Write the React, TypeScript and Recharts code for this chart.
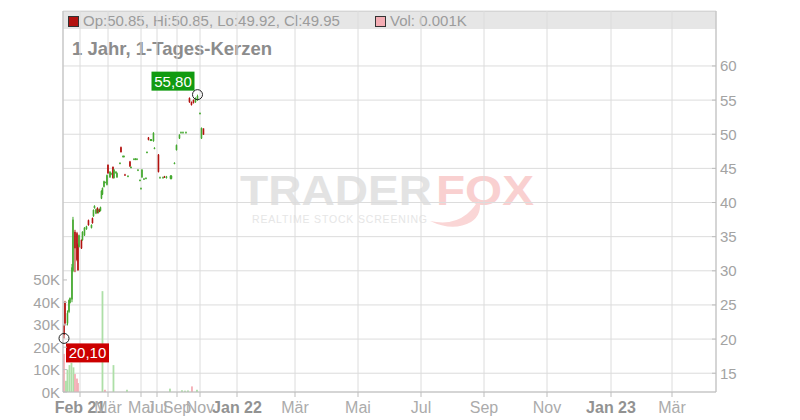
import React from 'react';
import { ComposedChart, Bar, XAxis, YAxis, CartesianGrid, ReferenceDot } from 'recharts';

// ---------- axis definitions ----------
const X_DOMAIN: [number, number] = [0, 653];
const tickSlots = [17, 45, 78, 94, 114, 137, 174, 232, 295, 358, 421, 484, 548, 609];
const tickLabels = ['Feb 21', 'Mär', 'Mai', 'Jul', 'Sep', 'Nov', 'Jan 22', 'Mär', 'Mai', 'Jul', 'Sep', 'Nov', 'Jan 23', 'Mär'];
const boldTickLabels = ['Feb 21', 'Jan 22', 'Jan 23'];
const PRICE_DOMAIN: [number, number] = [12.25, 68.05];
const priceTicks = [15, 20, 25, 30, 35, 40, 45, 50, 55, 60];
const VOLUME_DOMAIN: [number, number] = [0, 170000];
const volumeTicks = [0, 10000, 20000, 30000, 40000, 50000];

// ---------- data: [slot, open, high, low, close] ----------
const candles: [number, number, number, number, number][] = [
  [1, 22.0, 22.0, 20.1, 20.6],
  [2, 25.3, 25.6, 22.0, 22.3],
  [4.5, 22.3, 24.2, 22.0, 23.8],
  [6, 24.0, 25.8, 23.8, 25.7],
  [7, 25.3, 26.1, 25.2, 26.0],
  [9, 25.8, 31.0, 25.4, 30.5],
  [10, 30.0, 37.9, 29.8, 37.5],
  [12, 35.7, 36.0, 29.8, 33.3],
  [14, 35.5, 35.7, 31.4, 31.6],
  [15, 33.8, 34.0, 30.0, 30.1],
  [16, 33.5, 35.3, 33.4, 35.2],
  [18.5, 34.5, 34.6, 33.2, 33.3],
  [19.5, 34.5, 35.8, 34.4, 35.7],
  [21.5, 35.2, 36.4, 35.1, 36.3],
  [23.5, 36.1, 36.6, 36.0, 36.5],
  [25.5, 37.4, 37.5, 36.6, 36.7],
  [28.5, 36.3, 36.8, 36.2, 36.7],
  [29.5, 37.7, 37.8, 36.9, 37.0],
  [30.5, 38.0, 39.0, 37.9, 38.9],
  [31.5, 39.2, 39.6, 39.1, 39.5],
  [33, 38.4, 39.1, 38.3, 39.0],
  [34.5, 39.2, 39.3, 38.4, 38.5],
  [35.5, 38.5, 39.0, 38.4, 38.9],
  [36.5, 39.0, 39.1, 38.6, 38.7],
  [37.5, 38.8, 39.4, 38.7, 39.3],
  [38.5, 40.6, 41.8, 40.5, 41.7],
  [39.5, 41.2, 42.2, 41.1, 42.1],
  [41, 42.3, 43.2, 42.2, 43.1],
  [42, 42.9, 43.1, 42.8, 43.0],
  [44, 42.6, 44.1, 42.5, 44.0],
  [45, 45.5, 45.6, 44.2, 44.3],
  [47, 43.7, 44.6, 43.6, 44.5],
  [48, 44.1, 44.4, 44.0, 44.3],
  [50, 45.2, 45.3, 43.5, 43.6],
  [51, 43.6, 44.9, 43.5, 44.8],
  [53, 44.3, 44.6, 44.2, 44.5],
  [54, 43.7, 44.4, 43.6, 44.3],
  [57, 45.7, 45.9, 45.6, 45.8],
  [58, 48.1, 48.2, 47.3, 47.4],
  [60, 46.7, 46.9, 46.6, 46.8],
  [61, 46.7, 46.9, 46.6, 46.8],
  [62, 44.1, 44.2, 43.9, 44.0],
  [65, 43.8, 44.0, 43.7, 43.9],
  [67, 46.0, 46.1, 45.2, 45.3],
  [68, 45.1, 45.3, 45.0, 45.2],
  [71, 46.3, 46.5, 46.2, 46.4],
  [72.5, 46.3, 46.5, 46.2, 46.4],
  [74, 46.3, 46.5, 46.2, 46.4],
  [75, 44.7, 44.9, 44.6, 44.8],
  [77, 43.2, 43.4, 43.1, 43.3],
  [78, 42.0, 42.2, 41.9, 42.1],
  [79, 43.7, 44.9, 43.6, 44.8],
  [81, 43.4, 43.6, 43.3, 43.5],
  [83, 43.5, 43.7, 43.4, 43.6],
  [84, 47.3, 47.5, 47.2, 47.4],
  [85.5, 49.5, 49.6, 49.1, 49.2],
  [87.5, 49.1, 49.3, 49.0, 49.2],
  [88.5, 49.1, 49.3, 49.0, 49.2],
  [90.5, 49.0, 50.3, 48.9, 50.2],
  [91.5, 47.9, 48.1, 47.8, 48.0],
  [95.5, 47.0, 47.1, 44.4, 44.5],
  [97, 43.6, 43.8, 43.5, 43.7],
  [100, 43.6, 43.8, 43.5, 43.7],
  [101.5, 43.8, 43.9, 43.6, 43.7],
  [103.5, 43.6, 43.9, 43.5, 43.8],
  [107.5, 43.5, 44.0, 43.4, 43.9],
  [108.5, 43.5, 44.0, 43.4, 43.9],
  [111.5, 45.7, 45.9, 45.6, 45.8],
  [113.5, 47.7, 48.5, 47.6, 48.4],
  [116.5, 49.4, 50.0, 49.3, 49.9],
  [118, 50.2, 50.4, 50.1, 50.3],
  [120, 50.2, 50.4, 50.1, 50.3],
  [123, 50.2, 50.4, 50.1, 50.3],
  [126.5, 55.3, 55.4, 54.6, 54.7],
  [128.5, 54.7, 54.8, 54.2, 54.3],
  [130.5, 55.0, 55.1, 54.5, 54.6],
  [132.5, 54.7, 55.4, 54.6, 55.3],
  [134.5, 55.0, 55.8, 54.9, 55.6],
  [137, 53.0, 53.2, 52.9, 53.1],
  [138.5, 49.4, 51.0, 49.3, 50.9],
  [140.5, 50.85, 50.85, 49.92, 49.95],
];

// [slot, volume, up-day]
const volumes: [number, number, boolean][] = [
  [1, 17000, false],
  [3, 5000, true],
  [4.5, 10000, true],
  [6.5, 12000, true],
  [8.5, 13000, true],
  [10.5, 11000, true],
  [12, 8000, false],
  [14, 6000, false],
  [15, 4000, false],
  [39.5, 45000, true],
  [42, 1000, false],
  [50.5, 12000, true],
  [64, 1000, true],
  [107, 1500, true],
  [119, 800, true],
  [122, 600, true],
  [125, 700, true],
  [129, 2500, false],
  [134, 1000, true],
];

const highPoint = { slot: 134.5, price: 55.8, label: '55,80' };
const lowPoint = { slot: 1, price: 20.1, label: '20,10' };
const lastVolumeText = 'Vol: 0.001K';
const titleText = '1 Jahr, 1-Tages-Kerzen';

// ---------- styles ----------
const FONT = '"Liberation Sans", Arial, sans-serif';
const GREEN = '#45a930';
const RED = '#b3120f';
const VOL_GREEN = '#addfa7';
const VOL_RED = '#f4adb4';
const GRID = '#dcdcdc';
const AXIS = '#bdbdbd';

// ---------- merged table ----------
type Row = { slot: number; open?: number; high?: number; low?: number; close?: number; vol?: number; up?: boolean };
const rowMap = new Map<number, Row>();
candles.forEach(([slot, open, high, low, close]) => {
  rowMap.set(slot, { ...(rowMap.get(slot) || { slot }), open, high, low, close });
});
volumes.forEach(([slot, vol, up]) => {
  rowMap.set(slot, { ...(rowMap.get(slot) || { slot }), vol, up });
});
const tableData: Row[] = Array.from(rowMap.values()).sort((a, b) => a.slot - b.slot);

const last = candles[candles.length - 1];
const ohlcText = `Op:${last[1].toFixed(2)}, Hi:${last[2].toFixed(2)}, Lo:${last[3].toFixed(2)}, Cl:${last[4].toFixed(2)}`;

// ---------- shapes ----------
const CandleShape = (props: any) => {
  const { x, y, width, height, payload } = props;
  if (!payload || payload.high == null || x == null || y == null) return null;
  const { open, high, low, close } = payload;
  const top = Math.min(y, y + height);
  const h = Math.abs(height);
  const k = high - low > 0 ? h / (high - low) : 0;
  const cx = x + width / 2;
  const yo = top + (high - open) * k;
  const yc = top + (high - close) * k;
  const color = close >= open ? GREEN : RED;
  const bodyTop = Math.min(yo, yc);
  const bodyH = Math.max(1, Math.abs(yo - yc));
  return (
    <g>
      <line x1={cx} x2={cx} y1={top} y2={top + Math.max(h, 1)} stroke={color} strokeWidth={1} />
      <rect x={cx - 0.8} y={bodyTop} width={1.6} height={bodyH} fill={color} />
    </g>
  );
};

const VolumeShape = (props: any) => {
  const { x, y, width, height, payload } = props;
  if (!payload || payload.vol == null || x == null || y == null) return null;
  const cx = x + width / 2;
  const top = Math.min(y, y + height);
  const h = Math.abs(height);
  return <rect x={cx - 0.9} y={top} width={1.8} height={h} fill={payload.up ? VOL_GREEN : VOL_RED} />;
};

const makeMarker = (label: string, fill: string, above: boolean) => (props: any) => {
  const { cx, cy } = props;
  if (cx == null || cy == null) return null;
  const bw = 43;
  const bh = 19;
  const bx = above ? cx - 3 - bw : cx + 2;
  const by = above ? cy - 4 - bh : cy + 5;
  return (
    <g>
      <rect x={bx} y={by} width={bw} height={bh} fill={fill} />
      <text x={bx + bw / 2} y={by + bh / 2 + 5.5} textAnchor="middle" fill="#fff" fontSize={15} fontFamily={FONT}>
        {label}
      </text>
      <circle cx={cx} cy={cy} r={5} fill="none" stroke="#222" strokeWidth={1} />
    </g>
  );
};

// ---------- ticks ----------
const XTick = (props: any) => {
  const { x, y, payload } = props;
  const idx = tickSlots.indexOf(payload.value);
  const label = idx >= 0 ? tickLabels[idx] : '';
  const bold = boldTickLabels.includes(label);
  return (
    <text x={x} y={y + 16} textAnchor="middle" fontSize={16} fontFamily={FONT} fontWeight={bold ? 'bold' : 'normal'} fill={bold ? '#929292' : '#ababab'}>
      {label}
    </text>
  );
};

const PriceTick = (props: any) => {
  const { x, y, payload } = props;
  return (
    <g>
      <line x1={x - 4} x2={x} y1={y} y2={y} stroke={AXIS} />
      <text x={x + 4} y={y + 5.5} fontSize={15} fontFamily={FONT} fill="#a3a3a3">
        {payload.value}
      </text>
    </g>
  );
};

const VolumeTick = (props: any) => {
  const { x, y, payload } = props;
  return (
    <g>
      <line x1={x} x2={x + 4} y1={y} y2={y} stroke={AXIS} />
      <text x={x - 3} y={y + 5.5} textAnchor="end" fontSize={15} fontFamily={FONT} fill="#a3a3a3">
        {`${payload.value / 1000}K`}
      </text>
    </g>
  );
};

export default function App() {
  return (
    <div style={{ position: 'absolute', left: 0, top: 0, width: 800, height: 420, background: '#fff', fontFamily: FONT }}>
      <svg width={800} height={420} style={{ position: 'absolute', left: 0, top: 0 }}>
        <rect x={63} y={11} width={653} height={18} fill="#e6e6e6" />
        <line x1={63} x2={716} y1={11.5} y2={11.5} stroke="#cfcfcf" />
        <rect x={68.5} y={16.5} width={10} height={10} fill={RED} stroke="#333" />
        <text x={83} y={26} fontSize={15} fill="#9c9c9c" fontFamily={FONT}>{ohlcText}</text>
        <rect x={375.5} y={16.5} width={10} height={10} fill={VOL_RED} stroke="#333" />
        <text x={390} y={26} fontSize={15} fill="#9c9c9c" fontFamily={FONT}>{lastVolumeText}</text>
        <text x={72} y={54.5} fontSize={18.5} fontWeight="bold" fill="#8c8c8c" fontFamily={FONT}>{titleText}</text>
        {/* watermark */}
        <text x={240} y={205} fontSize={42} fontWeight="bold" fill="#e3e3e3" fontFamily={FONT} textLength={192} lengthAdjust="spacingAndGlyphs">TRADER</text>
        <text x={436} y={205} fontSize={42} fontWeight="bold" fill="#f9d0d0" fontFamily={FONT} textLength={98} lengthAdjust="spacingAndGlyphs">FOX</text>
        <text x={252} y={223} fontSize={10.5} fill="#e6e6e6" fontFamily={FONT} textLength={175} lengthAdjust="spacing">REALTIME STOCK SCREENING</text>
        <path d="M430 221 Q452 226 467 214 Q475 207 479 199 Q483 214 471 222 Q453 232 430 221 Z" fill="#fad6d6" />
      </svg>
      <div style={{ position: 'absolute', left: 0, top: 0 }}>
        <ComposedChart width={800} height={420} data={tableData} margin={{ top: 11, right: 0, bottom: 0, left: 0 }} style={{ fontFamily: FONT }}>
          <XAxis
            xAxisId="main"
            type="number"
            dataKey="slot"
            domain={X_DOMAIN}
            ticks={tickSlots}
            interval={0}
            allowDataOverflow
            height={28}
            tickSize={5}
            tickMargin={0}
            axisLine={{ stroke: AXIS }}
            tickLine={{ stroke: AXIS }}
            tick={<XTick />}
          />
          <XAxis xAxisId="vol" type="number" dataKey="slot" domain={X_DOMAIN} allowDataOverflow hide />
          <YAxis
            yAxisId="vol"
            orientation="left"
            width={63}
            domain={VOLUME_DOMAIN}
            ticks={volumeTicks}
            interval={0}
            allowDataOverflow
            tickSize={0}
            tickMargin={0}
            tickLine={false}
            axisLine={{ stroke: AXIS }}
            tick={<VolumeTick />}
          />
          <YAxis
            yAxisId="price"
            orientation="right"
            width={84}
            domain={PRICE_DOMAIN}
            ticks={priceTicks}
            interval={0}
            allowDataOverflow
            tickSize={0}
            tickMargin={0}
            tickLine={false}
            axisLine={{ stroke: AXIS }}
            tick={<PriceTick />}
          />
          <CartesianGrid xAxisId="main" yAxisId="price" stroke={GRID} strokeWidth={1} />
          <Bar xAxisId="vol" yAxisId="vol" dataKey="vol" barSize={2} shape={VolumeShape} isAnimationActive={false} />
          <Bar
            xAxisId="main"
            yAxisId="price"
            dataKey={(d: Row) => (d.high != null ? [d.low, d.high] : null)}
            barSize={2}
            shape={CandleShape}
            isAnimationActive={false}
          />
          <ReferenceDot xAxisId="main" yAxisId="price" x={highPoint.slot} y={highPoint.price} r={5} shape={makeMarker(highPoint.label, '#119b11', true)} />
          <ReferenceDot xAxisId="main" yAxisId="price" x={lowPoint.slot} y={lowPoint.price} r={5} shape={makeMarker(lowPoint.label, '#cc0000', false)} />
        </ComposedChart>
      </div>
    </div>
  );
}
